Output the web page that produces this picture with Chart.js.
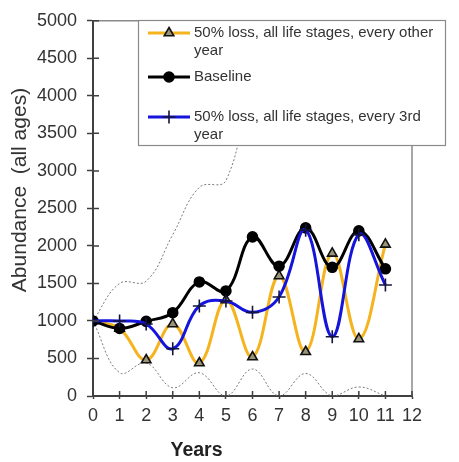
<!DOCTYPE html>
<html>
<head>
<meta charset="utf-8">
<script src="https://cdn.jsdelivr.net/npm/chart.js@4/dist/chart.umd.min.js"></script>
<style>
  html, body { margin: 0; padding: 0; background: #fff; }
  #wrap { width: 459px; height: 462px; }
</style>
</head>
<body>
<div id="wrap"><canvas id="c" width="459" height="462"></canvas></div>
<script>
// Simulated abundance (all ages) by year
const years = [0, 1, 2, 3, 4, 5, 6, 7, 8, 9, 10, 11];
const everyOtherYear = [1000, 900, 480, 960, 440, 1280, 520, 1600, 590, 1900, 760, 2020];
const baseline       = [1000, 900, 995, 1110, 1520, 1400, 2120, 1730, 2240, 1715, 2200, 1695];
const everyThirdYear = [1000, 1000, 960, 630, 1200, 1265, 1115, 1320, 2210, 790, 2150, 1480];
// Baseline confidence envelope
const upperBound = [1000, 1500, 1530, 2150, 2780, 2870, 4300, 5200, 5600, 6000, 6300, 6600];
const lowerBound = [1000, 310, 440, 110, 310, 0, 360, 0, 300, 0, 120, 0];

const seriesNames = [
  '50% loss, all life stages, every other year',
  'Baseline',
  '50% loss, all life stages, every 3rd year'
];
const xTicks = [0, 12, 1];       // min, max, step
const yTicks = [0, 5000, 500];   // min, max, step
const xTitle = 'Years';
const yTitle = 'Abundance  (all ages)';

const FONT = "'Liberation Sans', Arial, sans-serif";
const pts = vals => years.map((x, i) => ({ x, y: vals[i] }));

const YELLOW = '#F5B41E';
const BLUE = '#1414DC';
const AXIS = '#404040';

// Cross-through tick marks, top/right frame, axis titles
const framePlugin = {
  id: 'frame',
  afterDatasetsDraw(chart) {
    const { ctx, chartArea: a, scales: { x, y } } = chart;
    ctx.save();
    ctx.strokeStyle = '#8a8a8a';
    ctx.lineWidth = 1.5;
    ctx.beginPath();
    ctx.moveTo(a.left, a.top);
    ctx.lineTo(a.right, a.top);
    ctx.lineTo(a.right, a.bottom);
    ctx.stroke();
    ctx.strokeStyle = AXIS;
    ctx.lineWidth = 1.5;
    ctx.beginPath();
    x.ticks.forEach(t => {
      const px = x.getPixelForValue(t.value);
      ctx.moveTo(px, a.bottom);
      ctx.lineTo(px, a.bottom - 5);
    });
    y.ticks.forEach(t => {
      const py = y.getPixelForValue(t.value);
      ctx.moveTo(a.left, py);
      ctx.lineTo(a.left + 6, py);
    });
    ctx.stroke();
    ctx.restore();
  },
  afterDraw(chart) {
    const { ctx } = chart;
    ctx.save();
    ctx.fillStyle = '#222';
    ctx.font = 'bold 19.5px ' + FONT;
    ctx.textAlign = 'center';
    ctx.textBaseline = 'alphabetic';
    ctx.fillText(xTitle, 196.5, 456);
    ctx.translate(26, 190);
    ctx.rotate(-Math.PI / 2);
    ctx.font = '21px ' + FONT;
    ctx.fillStyle = '#333';
    ctx.fillText(yTitle, 0, 0);
    ctx.restore();
  }
};

// Boxed legend with wrapped entries
const legendPlugin = {
  id: 'boxLegend',
  afterDraw(chart) {
    const { ctx } = chart;
    const box = { x: 138, y: 20, w: 307, h: 125 };
    const rows = [33, 77, 117];
    ctx.save();
    ctx.fillStyle = '#fff';
    ctx.fillRect(box.x, box.y, box.w, box.h);
    ctx.strokeStyle = '#8a8a8a';
    ctx.lineWidth = 1.2;
    ctx.strokeRect(box.x + 0.5, box.y + 0.5, box.w, box.h);
    ctx.font = '15px ' + FONT;
    ctx.textBaseline = 'middle';
    ctx.textAlign = 'left';
    chart.data.datasets.slice(0, 3).forEach((ds, r) => {
      const cy = rows[r];
      ctx.strokeStyle = ds.borderColor;
      ctx.lineWidth = 3;
      ctx.beginPath();
      ctx.moveTo(148, cy);
      ctx.lineTo(190, cy);
      ctx.stroke();
      ctx.fillStyle = ds.pointBackgroundColor;
      ctx.strokeStyle = ds.pointBorderColor;
      ctx.lineWidth = ds.pointBorderWidth;
      Chart.helpers.drawPoint(ctx, {
        pointStyle: ds.pointStyle,
        radius: ds.pointRadius,
        borderWidth: ds.pointBorderWidth,
        rotation: 0
      }, 169, cy);
      // wrap the label to the legend width
      const words = ds.label.split(' ');
      const lines = [];
      let cur = '';
      words.forEach(w => {
        const t = cur ? cur + ' ' + w : w;
        if (ctx.measureText(t).width > 244 && cur) { lines.push(cur); cur = w; }
        else cur = t;
      });
      lines.push(cur);
      ctx.fillStyle = '#333';
      lines.forEach((ln, k) => ctx.fillText(ln, 194, cy + k * 18));
    });
    ctx.restore();
  }
};

const lineDs = (label, vals, color, style, radius, fill, border, order) => ({
  label, data: pts(vals), borderColor: color, borderWidth: 3,
  pointStyle: style, pointRadius: radius, pointHoverRadius: radius,
  pointBackgroundColor: fill, pointBorderColor: border, pointBorderWidth: 1.6,
  tension: 0.4, order
});
const boundDs = (label, vals) => ({
  label, data: pts(vals), borderColor: '#7a7a7a', borderWidth: 1,
  borderDash: [2, 2], pointRadius: 0, tension: 0.4, order: 5
});

new Chart(document.getElementById('c'), {
  type: 'line',
  data: {
    datasets: [
      lineDs(seriesNames[0], everyOtherYear, YELLOW, 'triangle', 5.5, '#9a9478', '#111', 3),
      lineDs(seriesNames[1], baseline, '#000', 'circle', 5, '#000', '#000', 2),
      lineDs(seriesNames[2], everyThirdYear, BLUE, 'cross', 6.5, BLUE, '#14143a', 1),
      boundDs('upper', upperBound),
      boundDs('lower', lowerBound)
    ]
  },
  options: {
    responsive: false,
    animation: false,
    events: [],
    layout: { padding: { top: 15, right: 47, left: 0, bottom: 0 } },
    plugins: { legend: { display: false }, tooltip: { enabled: false } },
    scales: {
      x: {
        type: 'linear', min: xTicks[0], max: xTicks[1],
        ticks: { stepSize: xTicks[2], color: '#333', font: { family: FONT, size: 18 }, padding: 6,
                 callback: v => String(v) },
        grid: { drawOnChartArea: false, tickLength: 3, color: AXIS, tickWidth: 1.5 },
        border: { color: AXIS, width: 2 },
        afterFit: s => { s.height = 66; }
      },
      y: {
        min: yTicks[0], max: yTicks[1],
        ticks: { stepSize: yTicks[2], color: '#333', font: { family: FONT, size: 18 }, padding: 10,
                 callback: v => String(v) },
        grid: { drawOnChartArea: false, tickLength: 6, color: AXIS, tickWidth: 1.5 },
        border: { color: AXIS, width: 2 },
        afterFit: s => { s.width = 93; }
      }
    }
  },
  plugins: [framePlugin, legendPlugin]
});
</script>
</body>
</html>
